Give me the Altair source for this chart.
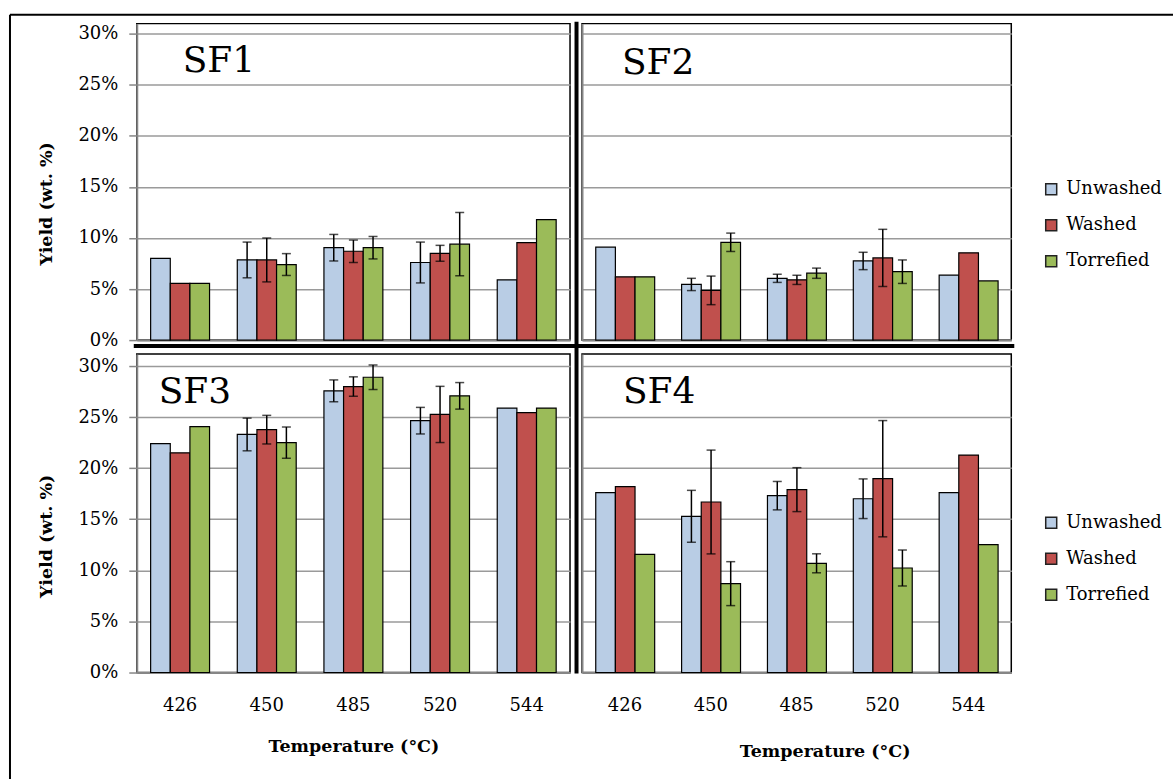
import altair as alt
import pandas as pd

temps = ["426", "450", "485", "520", "544"]
series = ["Unwashed", "Washed", "Torrefied"]
colors = ["#B9CDE5", "#C0504D", "#9BBB59"]

# SF1 yields (wt. %) and error half-widths
sf1_unwashed = [8.0, 7.85, 9.05, 7.6, 5.9]
sf1_washed = [5.55, 7.85, 8.7, 8.5, 9.55]
sf1_torrefied = [5.55, 7.4, 9.05, 9.4, 11.8]
sf1_err_unwashed = [None, 1.75, 1.3, 2.0, None]
sf1_err_washed = [None, 2.15, 1.1, 0.78, None]
sf1_err_torrefied = [None, 1.07, 1.1, 3.1, None]

# SF2
sf2_unwashed = [9.1, 5.45, 6.05, 7.75, 6.37]
sf2_washed = [6.2, 4.87, 5.9, 8.05, 8.55]
sf2_torrefied = [6.2, 9.58, 6.55, 6.7, 5.8]
sf2_err_unwashed = [None, 0.6, 0.4, 0.85, None]
sf2_err_washed = [None, 1.4, 0.45, 2.8, None]
sf2_err_torrefied = [None, 0.9, 0.5, 1.15, None]

# SF3
sf3_unwashed = [22.4, 23.3, 27.57, 24.65, 25.88]
sf3_washed = [21.5, 23.77, 27.99, 25.26, 25.43]
sf3_torrefied = [24.07, 22.5, 28.9, 27.08, 25.88]
sf3_err_unwashed = [None, 1.6, 1.07, 1.3, None]
sf3_err_washed = [None, 1.4, 0.95, 2.75, None]
sf3_err_torrefied = [None, 1.53, 1.2, 1.3, None]

# SF4
sf4_unwashed = [17.6, 15.29, 17.31, 17.01, 17.6]
sf4_washed = [18.19, 16.69, 17.9, 18.97, 21.28]
sf4_torrefied = [11.57, 8.70, 10.69, 10.23, 12.52]
sf4_err_unwashed = [None, 2.54, 1.39, 1.94, None]
sf4_err_washed = [None, 5.08, 2.15, 5.69, None]
sf4_err_torrefied = [None, 2.15, 0.93, 1.76, None]

y_ticks = [0, 5, 10, 15, 20, 25, 30]
FONT = "DejaVu Serif"
AXIS_GRAY = "#868686"
GRID_GRAY = "#9a9a9a"


def make_df(vals, errs):
    rows = []
    for s, v, e in zip(series, vals, errs):
        for t, vv, ee in zip(temps, v, e):
            rows.append({"Temperature": t, "Series": s, "Yield": vv, "Err": ee})
    return pd.DataFrame(rows)


def one():
    return pd.DataFrame({"a": [0]})


def panel(name, vals, errs, width, height, ymax, left, bottom, legend_y,
          name_xy, xtitle_xy, ytitle_y, decor=False):
    df = make_df(vals, errs)
    if bottom:
        xaxis = alt.Axis(labels=True, ticks=False, title="Temperature (°C)",
                         labelFont=FONT, labelFontSize=18, labelColor="black",
                         labelPadding=24, labelAngle=0,
                         domainColor=AXIS_GRAY, domainWidth=2,
                         titleFont=FONT, titleFontSize=17.5, titleFontWeight="bold",
                         titleColor="black", titleX=xtitle_xy[0], titleY=xtitle_xy[1],
                         titleAlign="center", titleBaseline="middle")
    else:
        xaxis = alt.Axis(labels=False, ticks=False, title=None,
                         domainColor=AXIS_GRAY, domainWidth=2)
    if left:
        yaxis = alt.Axis(values=y_ticks, labelExpr="datum.value + '%'",
                         labelFont=FONT, labelFontSize=18, labelColor="black",
                         labelPadding=11, labelFlush=False, labelOverlap=False,
                         tickColor=AXIS_GRAY, tickSize=8, tickWidth=1.5,
                         domainColor=AXIS_GRAY, domainWidth=2,
                         grid=True, gridColor=GRID_GRAY, gridWidth=1.5,
                         title="Yield (wt. %)", titleFont=FONT, titleFontSize=17.5,
                         titleFontWeight="bold", titleColor="black",
                         titleAngle=270, titleX=-90, titleY=ytitle_y,
                         titleAlign="center", titleBaseline="middle")
    else:
        yaxis = alt.Axis(values=y_ticks, labels=False, ticks=False, title=None,
                         domainColor=AXIS_GRAY, domainWidth=2,
                         grid=True, gridColor=GRID_GRAY, gridWidth=1.5)
    if legend_y is not None:
        legend = alt.Legend(orient="none", legendX=461, legendY=legend_y, title=None,
                            symbolType="square", symbolSize=121,
                            symbolStrokeColor="#222222", symbolStrokeWidth=1.5,
                            labelFont=FONT, labelFontSize=18, labelColor="black",
                            rowPadding=18, labelOffset=6, padding=0)
    else:
        legend = None

    xenc = alt.X("Temperature:N", sort=temps,
                 scale=alt.Scale(paddingInner=0.32, paddingOuter=0.16), axis=xaxis)
    xoff = alt.XOffset("Series:N", sort=series,
                       scale=alt.Scale(paddingInner=0, paddingOuter=0))
    yscale = alt.Scale(domain=[0, ymax], nice=False, zero=True)

    bars = alt.Chart(df).mark_bar(stroke="black", strokeWidth=1.2).encode(
        x=xenc, xOffset=xoff,
        y=alt.Y("Yield:Q", scale=yscale, axis=yaxis),
        color=alt.Color("Series:N", sort=series,
                        scale=alt.Scale(domain=series, range=colors), legend=legend),
    )
    errbase = alt.Chart(df).transform_filter("isValid(datum.Err)").transform_calculate(
        lo="datum.Yield - datum.Err", hi="datum.Yield + datum.Err"
    ).encode(x=xenc, xOffset=xoff)
    rule = errbase.mark_rule(color="black", strokeWidth=1.5).encode(
        y=alt.Y("lo:Q", scale=yscale, axis=yaxis), y2="hi:Q")
    cap_lo = errbase.mark_tick(color="black", thickness=1.5, size=9).encode(
        y=alt.Y("lo:Q", scale=yscale, axis=yaxis))
    cap_hi = errbase.mark_tick(color="black", thickness=1.5, size=9).encode(
        y=alt.Y("hi:Q", scale=yscale, axis=yaxis))
    label = alt.Chart(pd.DataFrame({"label": [name]})).mark_text(
        font=FONT, fontSize=36, align="left", baseline="alphabetic", color="black"
    ).encode(text="label:N", x=alt.value(name_xy[0]), y=alt.value(name_xy[1]))

    layers = [bars, rule, cap_lo, cap_hi, label]
    if decor:
        # outer frame (top and left) and thick separators between panels
        layers.append(alt.Chart(one()).mark_rule(color="black", strokeWidth=2).encode(
            x=alt.value(-127), x2=alt.value(1038), y=alt.value(-9)))
        layers.append(alt.Chart(one()).mark_rule(color="black", strokeWidth=2).encode(
            x=alt.value(-127), y=alt.value(-9), y2=alt.value(757)))
        layers.append(alt.Chart(one()).mark_rule(color="black", strokeWidth=4).encode(
            x=alt.value(440.5), y=alt.value(-2), y2=alt.value(651)))
        layers.append(alt.Chart(one()).mark_rule(color="black", strokeWidth=4).encode(
            x=alt.value(-3), x2=alt.value(879), y=alt.value(323)))
    return alt.layer(*layers).properties(
        width=width, height=height,
        view=alt.ViewBackground(stroke="black", strokeWidth=1.5),
    )


sf1 = panel("SF1", [sf1_unwashed, sf1_washed, sf1_torrefied],
            [sf1_err_unwashed, sf1_err_washed, sf1_err_torrefied],
            434, 317, 31.0, True, False, None, (46, 48), None, 180, decor=True)
sf2 = panel("SF2", [sf2_unwashed, sf2_washed, sf2_torrefied],
            [sf2_err_unwashed, sf2_err_washed, sf2_err_torrefied],
            430, 317, 31.0, False, False, 157, (40, 50), None, 180)
sf3 = panel("SF3", [sf3_unwashed, sf3_washed, sf3_torrefied],
            [sf3_err_unwashed, sf3_err_washed, sf3_err_torrefied],
            434, 319, 31.17, True, True, None, (22, 49), (217, 74), 182)
sf4 = panel("SF4", [sf4_unwashed, sf4_washed, sf4_torrefied],
            [sf4_err_unwashed, sf4_err_washed, sf4_err_torrefied],
            430, 319, 31.17, False, True, 160, (41, 49), (243, 79), 182)

chart = alt.concat(
    sf1, sf2, sf3, sf4, columns=2, spacing={"row": 14, "column": 12}, bounds="flush"
).resolve_scale(color="independent", y="independent", x="independent").resolve_legend(
    color="independent").resolve_axis(x="independent", y="independent").properties(
    padding={"left": 8, "top": 12, "right": 0, "bottom": 0},
    background="white",
).configure_view(stroke="black", strokeWidth=1.5).configure(font=FONT)

chart.save("out.html", embed_options={"renderer": "svg", "actions": False})
